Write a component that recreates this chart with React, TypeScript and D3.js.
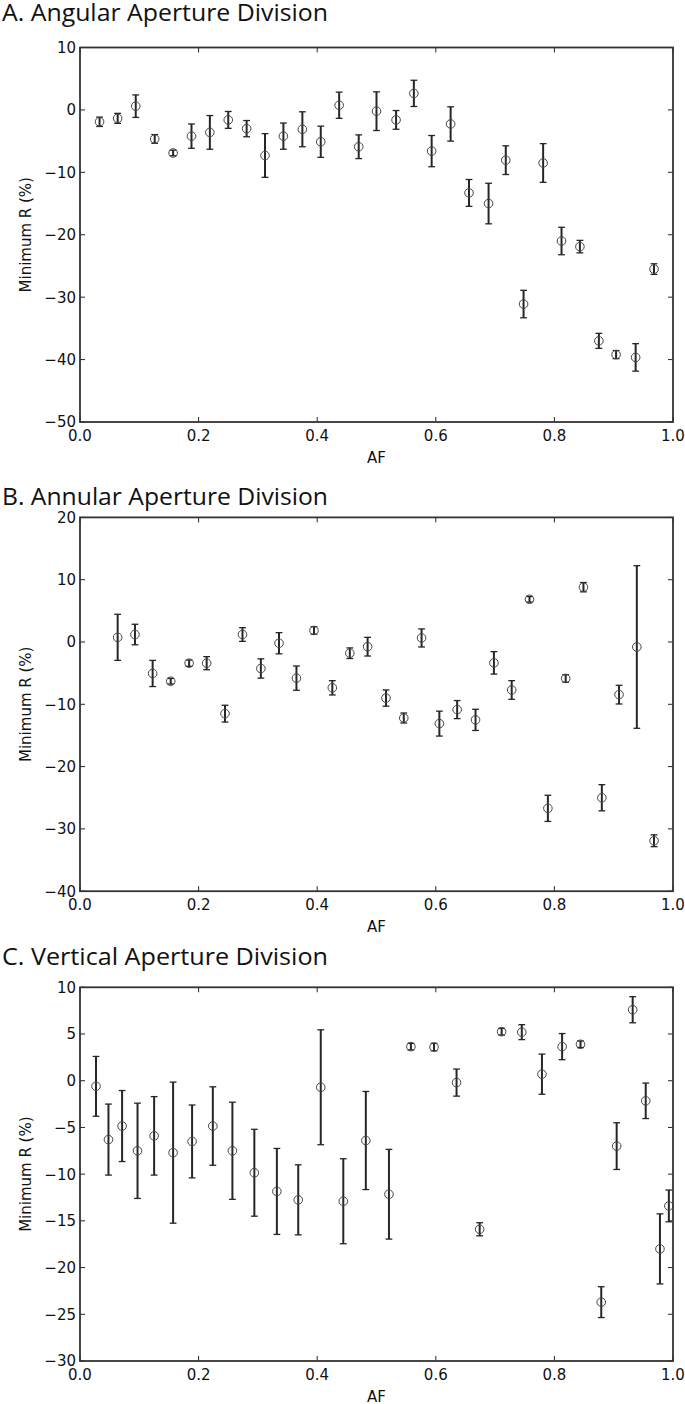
import React from "react";
import * as d3 from "d3";

const titles = ["A. Angular Aperture Division", "B. Annular Aperture Division", "C. Vertical Aperture Division"];
const xLabel = "AF";
const yLabel = "Minimum R (%)";
const xTicks = [0, 0.2, 0.4, 0.6, 0.8, 1.0];

const aX = [0.033, 0.0635, 0.094, 0.126, 0.157, 0.188, 0.219, 0.25, 0.281, 0.312, 0.343, 0.375, 0.406, 0.437, 0.47, 0.5, 0.533, 0.563, 0.593, 0.625, 0.656, 0.689, 0.718, 0.748, 0.781, 0.812, 0.843, 0.875, 0.904, 0.937, 0.968];
const aY = [-1.9, -1.35, 0.6, -4.65, -6.9, -4.2, -3.6, -1.6, -3.0, -7.3, -4.2, -3.1, -5.1, 0.75, -5.9, -0.2, -1.6, 2.65, -6.6, -2.25, -13.3, -15.0, -8.05, -31.1, -8.5, -21.0, -21.9, -37.0, -39.2, -39.65, -25.5];
const aErr = [0.75, 0.8, 1.8, 0.7, 0.45, 1.95, 2.7, 1.35, 1.3, 3.5, 2.1, 2.8, 2.5, 2.1, 1.9, 3.1, 1.5, 2.1, 2.5, 2.75, 2.15, 3.25, 2.3, 2.2, 3.1, 2.2, 1.0, 1.2, 0.65, 2.2, 0.85];
const aYTicks = [10, 0, -10, -20, -30, -40, -50];

const bX = [0.0635, 0.0927, 0.1225, 0.153, 0.184, 0.2136, 0.2445, 0.274, 0.305, 0.3356, 0.365, 0.3946, 0.4255, 0.455, 0.485, 0.516, 0.546, 0.576, 0.606, 0.636, 0.667, 0.698, 0.728, 0.758, 0.789, 0.819, 0.849, 0.88, 0.909, 0.939, 0.968];
const bY = [0.75, 1.2, -5.05, -6.3, -3.4, -3.4, -11.5, 1.2, -4.25, -0.2, -5.8, 1.85, -7.35, -1.8, -0.75, -9.0, -12.2, 0.65, -13.1, -10.85, -12.5, -3.35, -7.7, 6.85, -26.7, -5.85, 8.8, -25.0, -8.45, -0.8, -31.9];
const bErr = [3.7, 1.65, 2.1, 0.45, 0.5, 1.05, 1.35, 1.1, 1.55, 1.7, 1.95, 0.6, 1.15, 0.85, 1.5, 1.3, 0.8, 1.45, 2.0, 1.45, 1.7, 1.8, 1.5, 0.45, 2.1, 0.6, 0.75, 2.1, 1.5, 13.05, 0.95];
const bYTicks = [20, 10, 0, -10, -20, -30, -40];

const cX = [0.027, 0.048, 0.071, 0.097, 0.125, 0.157, 0.189, 0.224, 0.257, 0.294, 0.332, 0.368, 0.406, 0.444, 0.482, 0.521, 0.558, 0.597, 0.635, 0.674, 0.711, 0.745, 0.779, 0.813, 0.844, 0.879, 0.905, 0.932, 0.954, 0.978, 0.993];
const cY = [-0.6, -6.3, -4.85, -7.5, -5.9, -7.7, -6.5, -4.85, -7.5, -9.85, -11.85, -12.75, -0.7, -12.9, -6.4, -12.15, 3.65, 3.6, -0.2, -15.9, 5.25, 5.2, 0.7, 3.65, 3.9, -23.7, -7.0, 7.6, -2.15, -18.0, -13.4];
const cErr = [3.2, 3.8, 3.8, 5.1, 4.2, 7.55, 3.9, 4.2, 5.2, 4.65, 4.6, 3.75, 6.15, 4.55, 5.25, 4.8, 0.35, 0.4, 1.45, 0.7, 0.35, 0.8, 2.15, 1.4, 0.35, 1.65, 2.5, 1.4, 1.9, 3.75, 1.7];
const cYTicks = [10, 5, 0, -5, -10, -15, -20, -25, -30];

const panels = [
  { title: titles[0], xs: aX, ys: aY, errs: aErr, yTicks: aYTicks, top: 47.5, bottom: 422, titleY: 20.5 },
  { title: titles[1], xs: bX, ys: bY, errs: bErr, yTicks: bYTicks, top: 517.4, bottom: 891.2, titleY: 505 },
  { title: titles[2], xs: cX, ys: cY, errs: cErr, yTicks: cYTicks, top: 987.3, bottom: 1361, titleY: 965 },
];

const LEFT = 80;
const RIGHT = 673;
const INK = "#262626";
const TICKFONT = "'DejaVu Sans', sans-serif";

function fmtY(v: number) {
  return v < 0 ? "\u2212" + Math.abs(v) : String(v);
}

function Panel({ p }: { p: typeof panels[number] }) {
  const x = d3.scaleLinear().domain([0, 1]).range([LEFT, RIGHT]);
  const yExt = d3.extent(p.yTicks) as [number, number];
  const y = d3.scaleLinear().domain(yExt).range([p.bottom, p.top]);
  const tl = 5;
  const cap = 3.4;
  return (
    <g>
      <text x={2} y={p.titleY} fontFamily="'Open Sans', sans-serif" fontSize={23} fill="#111" textLength={326} lengthAdjust="spacingAndGlyphs">
        {p.title}
      </text>
      {xTicks.map((t) => (
        <g key={"xt" + t}>
          <line x1={x(t)} x2={x(t)} y1={p.bottom} y2={p.bottom - tl} stroke={INK} strokeWidth={1} />
          <line x1={x(t)} x2={x(t)} y1={p.top} y2={p.top + tl} stroke={INK} strokeWidth={1} />
          <text x={x(t)} y={p.bottom + 18.5} textAnchor="middle" fontFamily={TICKFONT} fontSize={15} fill="#111">
            {t.toFixed(1)}
          </text>
        </g>
      ))}
      {p.yTicks.map((t) => (
        <g key={"yt" + t}>
          <line x1={LEFT} x2={LEFT + tl} y1={y(t)} y2={y(t)} stroke={INK} strokeWidth={1} />
          <line x1={RIGHT} x2={RIGHT - tl} y1={y(t)} y2={y(t)} stroke={INK} strokeWidth={1} />
          <text x={76} y={y(t)} dy="0.36em" textAnchor="end" fontFamily={TICKFONT} fontSize={15} fill="#111">
            {fmtY(t)}
          </text>
        </g>
      ))}
      <text x={(LEFT + RIGHT) / 2} y={p.bottom + 41} textAnchor="middle" fontFamily={TICKFONT} fontSize={15} fill="#111">
        {xLabel}
      </text>
      <text
        transform={`translate(31, ${(p.top + p.bottom) / 2}) rotate(-90)`}
        textAnchor="middle"
        fontFamily={TICKFONT}
        fontSize={15}
        fill="#111"
      >
        {yLabel}
      </text>
      {p.xs.map((xv, i) => {
        const cx = x(xv);
        const y0 = y(p.ys[i] + p.errs[i]);
        const y1 = y(p.ys[i] - p.errs[i]);
        return (
          <g key={"e" + i}>
            <line x1={cx} x2={cx} y1={y0} y2={y1} stroke={INK} strokeWidth={2} />
            <line x1={cx - cap} x2={cx + cap} y1={y0} y2={y0} stroke={INK} strokeWidth={1.3} />
            <line x1={cx - cap} x2={cx + cap} y1={y1} y2={y1} stroke={INK} strokeWidth={1.3} />
            <circle cx={cx} cy={y(p.ys[i])} r={4.3} fill="none" stroke="#444" strokeWidth={1} />
          </g>
        );
      })}
      <rect x={LEFT} y={p.top} width={RIGHT - LEFT} height={p.bottom - p.top} fill="none" stroke="#333" strokeWidth={1.8} />
    </g>
  );
}

export default function App() {
  return (
    <svg width={685} height={1404} style={{ position: "absolute", left: 0, top: 0, background: "#fff" }}>
      <rect x={0} y={0} width={685} height={1404} fill="#fff" />
      {panels.map((p, i) => (
        <Panel key={i} p={p} />
      ))}
    </svg>
  );
}
